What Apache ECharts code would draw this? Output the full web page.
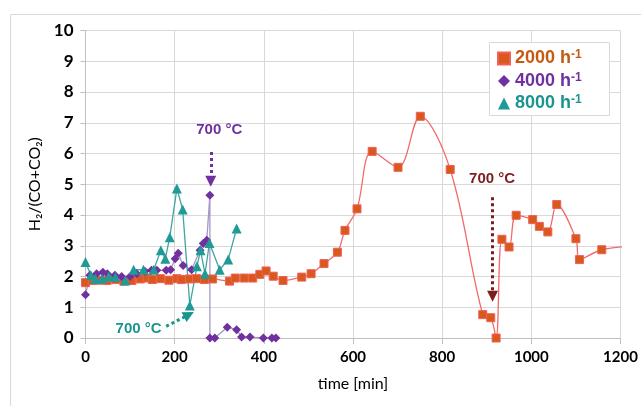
<!DOCTYPE html>
<html><head><meta charset="utf-8">
<script src="https://cdn.jsdelivr.net/npm/echarts@6/dist/echarts.min.js"></script>
<style>html,body{margin:0;padding:0;background:#fff}#c{width:641px;height:406px}</style>
</head><body><div id="c"></div>
<script>
// ---- data (time in min, ratio H2/(CO+CO2)) ----
const seriesNames = ['2000 h-1', '4000 h-1', '8000 h-1'];
const xTicks = [0, 200, 400, 600, 800, 1000, 1200];
const yTicks = [0, 1, 2, 3, 4, 5, 6, 7, 8, 9, 10];

const t2000 = [0, 15, 30, 48, 67, 86, 104, 123, 138, 150, 168, 187, 205, 215, 233, 249, 267, 285, 323, 336, 356, 375, 391, 405, 421, 443, 485, 506, 535, 565, 582, 609, 643, 701, 751, 818, 891, 909, 921, 934, 950, 966, 1003, 1018, 1037, 1057, 1100, 1108, 1158, 1250];
const v2000 = [1.8, 1.87, 1.88, 1.87, 1.9, 1.85, 1.87, 1.92, 1.95, 1.9, 1.93, 1.88, 1.93, 1.9, 1.92, 1.93, 1.9, 1.92, 1.85, 1.95, 1.95, 1.95, 2.07, 2.18, 2.01, 1.87, 1.98, 2.09, 2.42, 2.79, 3.5, 4.2, 6.07, 5.55, 7.21, 5.48, 0.76, 0.66, 0.0, 3.21, 2.96, 3.99, 3.85, 3.63, 3.45, 4.34, 3.23, 2.55, 2.87, 3.0];

const t4000 = [0, 10, 25, 39, 49, 66, 81, 100, 115, 133, 148, 160, 181, 191, 201, 208, 219, 238, 257, 264, 272, 279, 279, 290, 318, 339, 350, 369, 399, 418, 427];
const v4000 = [1.41, 2.04, 2.09, 2.14, 2.09, 2.04, 2.0, 2.0, 2.09, 2.17, 2.2, 2.2, 2.2, 2.22, 2.58, 2.76, 2.36, 2.22, 2.85, 3.07, 3.18, 4.64, 0.0, 0.0, 0.35, 0.27, 0.03, 0.03, 0.0, 0.0, 0.0];

const t8000 = [0, 12, 22, 37, 52, 67, 89, 108, 130, 153, 169, 179, 189, 205, 218, 234, 250, 258, 268, 278, 301, 320, 339];
const v8000 = [2.47, 2.04, 1.93, 1.93, 2.0, 1.98, 1.87, 2.22, 2.22, 2.22, 2.85, 2.58, 3.28, 4.86, 4.18, 1.06, 2.33, 2.85, 2.09, 3.09, 2.22, 2.55, 3.56];

// annotation text
const ann700 = '700 °C';

const zip = (a, b) => a.map((x, i) => [x, b[i]]);
const colOrange = '#d9581c', colPurple = '#7030a0', colTeal = '#1f9a96';
const txtColors = ['#c55a11', '#7030a0', '#1a948f'];
const chart = echarts.init(document.getElementById('c'), null, {renderer: 'canvas'});

const dash = {type: [3, 3], width: 3};
function richFor(i) {
  return {
    ['b' + i]: {fontSize: 18, fontWeight: 'bold', color: txtColors[i], fontFamily: 'Liberation Sans', lineHeight: 19},
    ['s' + i]: {fontSize: 12, fontWeight: 'bold', color: txtColors[i], fontFamily: 'Liberation Sans', verticalAlign: 'top', lineHeight: 19}
  };
}
chart.setOption({
  animation: false,
  backgroundColor: '#fff',
  graphic: [
    {type: 'rect', shape: {x: 10.5, y: 14.5, width: 700, height: 500}, style: {fill: 'none', stroke: '#d9d9d9', lineWidth: 1}, z: -10},
    {type: 'rect', shape: {x: 489.5, y: 42.5, width: 120, height: 73}, style: {fill: '#fff', stroke: '#d9d9d9', lineWidth: 1}, z: 3}
  ],
  grid: {left: 85.5, right: 20.5, top: 30.5, bottom: 68},
  legend: {
    orient: 'vertical', left: 489, top: 43, z: 10,
    padding: [6, 8, 5, 8], itemGap: 4, itemWidth: 12, itemHeight: 12,
    data: [
      {name: seriesNames[0], icon: 'rect', itemStyle: {color: colOrange}},
      {name: seriesNames[1], icon: 'diamond', itemStyle: {color: colPurple}},
      {name: seriesNames[2], icon: 'triangle', itemStyle: {color: colTeal}}
    ],
    formatter: n => { const i = seriesNames.indexOf(n); return '{b' + i + '|' + n.replace('-1', '') + '}{s' + i + '|-1}'; },
    textStyle: {
      fontFamily: 'Liberation Sans', fontWeight: 'bold', fontSize: 18,
      rich: Object.assign({}, richFor(0), richFor(1), richFor(2))
    }
  },
  xAxis: {
    type: 'value', min: xTicks[0], max: xTicks[xTicks.length - 1], interval: 200,
    name: 'time [min]', nameLocation: 'middle', nameGap: 38,
    nameTextStyle: {fontFamily: 'Lato', fontSize: 16, color: '#000'},
    axisLine: {show: true, onZero: false, lineStyle: {color: '#bfbfbf'}},
    axisTick: {show: true, length: 6, lineStyle: {color: '#bfbfbf'}},
    axisLabel: {fontFamily: 'Lato', fontWeight: 'bold', fontSize: 15, color: '#000', margin: 12, formatter: v => String(v)},
    splitLine: {show: true, lineStyle: {color: '#d9d9d9'}}
  },
  yAxis: {
    type: 'value', min: yTicks[0], max: yTicks[yTicks.length - 1], interval: 1,
    name: 'H₂/(CO+CO₂)', nameLocation: 'middle', nameGap: 40,
    nameTextStyle: {fontFamily: 'Lato', fontSize: 16, color: '#000'},
    axisLine: {show: true, lineStyle: {color: '#bfbfbf'}},
    axisTick: {show: true, length: 5, lineStyle: {color: '#bfbfbf'}},
    axisLabel: {fontFamily: 'Lato', fontWeight: 'bold', fontSize: 17, color: '#000', margin: 12, formatter: v => String(v)},
    splitLine: {show: true, lineStyle: {color: '#d9d9d9'}}
  },
  series: [
    {
      name: seriesNames[0], type: 'line', data: zip(t2000, v2000), smooth: 0.35,
      symbol: 'rect', symbolSize: 8, clip: true,
      lineStyle: {color: '#f06a6a', width: 1.3},
      itemStyle: {color: colOrange, borderColor: '#f0605a', borderWidth: 1},
      markLine: {silent: true, symbol: ['none', 'triangle'], symbolSize: 11, label: {show: false},
        lineStyle: Object.assign({color: '#7b1e1e'}, dash), itemStyle: {color: '#7b1e1e'},
        data: [[{coord: [913, 4.58]}, {coord: [913, 1.36]}]]},
      markPoint: {symbol: 'circle', symbolSize: 0, silent: true,
        label: {show: true, position: 'inside', formatter: ann700, color: '#7b1e1e', fontFamily: 'Liberation Sans', fontWeight: 'bold', fontSize: 15},
        data: [{coord: [912, 5.16]}]}
    },
    {
      name: seriesNames[1], type: 'line', data: zip(t4000, v4000),
      symbol: 'diamond', symbolSize: 9, clip: true,
      lineStyle: {color: '#a596c8', width: 1.3},
      itemStyle: {color: colPurple},
      markLine: {silent: true, symbol: ['none', 'triangle'], symbolSize: 11, label: {show: false},
        lineStyle: Object.assign({color: colPurple}, dash), itemStyle: {color: colPurple},
        data: [[{coord: [281, 6.05]}, {coord: [281, 5.1]}]]},
      markPoint: {symbol: 'circle', symbolSize: 0, silent: true,
        label: {show: true, position: 'inside', formatter: ann700, color: colPurple, fontFamily: 'Liberation Sans', fontWeight: 'bold', fontSize: 15},
        data: [{coord: [300, 6.76]}]}
    },
    {
      name: seriesNames[2], type: 'line', data: zip(t8000, v8000),
      symbol: 'triangle', symbolSize: 10, clip: true,
      lineStyle: {color: '#3fa5a2', width: 1.3},
      itemStyle: {color: colTeal},
      markLine: {silent: true, symbol: ['none', 'triangle'], symbolSize: 11, label: {show: false},
        lineStyle: Object.assign({color: '#1a948f'}, dash), itemStyle: {color: '#1a948f'},
        data: [[{coord: [181, 0.38]}, {coord: [232, 0.76]}]]},
      markPoint: {symbol: 'circle', symbolSize: 0, silent: true,
        label: {show: true, position: 'inside', formatter: ann700, color: '#1a948f', fontFamily: 'Liberation Sans', fontWeight: 'bold', fontSize: 15},
        data: [{coord: [119, 0.29]}]}
    }
  ]
});
</script></body></html>
